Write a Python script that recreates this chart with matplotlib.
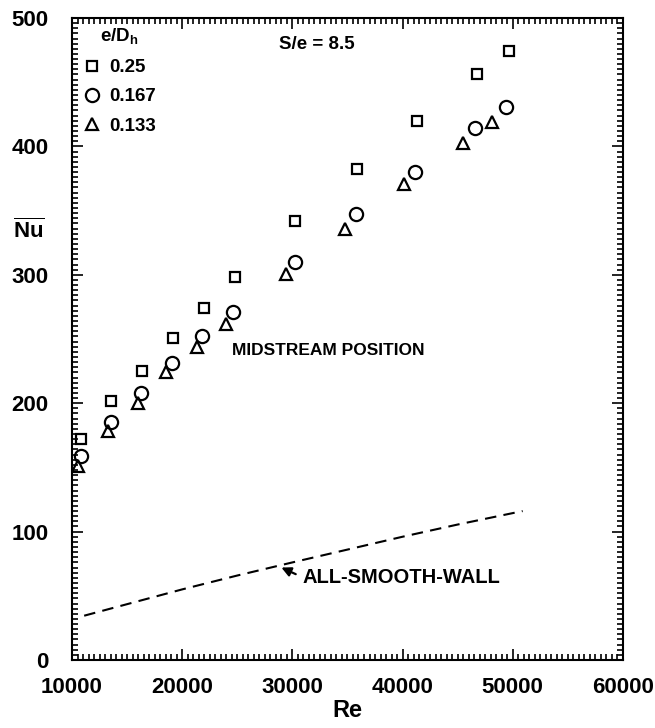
import matplotlib
matplotlib.use('Agg')
import matplotlib.pyplot as plt
from matplotlib.ticker import MultipleLocator

plt.rcParams['font.family'] = ['Liberation Sans', 'DejaVu Sans']
plt.rcParams['font.weight'] = 'bold'
plt.rcParams['mathtext.fontset'] = 'custom'
plt.rcParams['mathtext.rm'] = 'Liberation Sans:bold'
plt.rcParams['mathtext.bf'] = 'Liberation Sans:bold'

# e/Dh = 0.25
re_sq = [10800, 13550, 16350, 19200, 22000, 24800, 30250, 35900, 41350, 46800, 49650]
nu_sq = [172, 202, 225, 251, 274, 298, 342, 382, 420, 456, 474]
# e/Dh = 0.167
re_ci = [10800, 13550, 16250, 19100, 21800, 24650, 30200, 35750, 41100, 46550, 49350]
nu_ci = [159, 185, 208, 231, 252, 271, 310, 347, 380, 414, 431]
# e/Dh = 0.133
re_tr = [10550, 13250, 16000, 18550, 21350, 24000, 29450, 34750, 40100, 45450, 48100]
nu_tr = [151, 178, 200, 224, 244, 262, 301, 336, 371, 403, 419]
# smooth wall line
re_sm = [11100, 15000, 20000, 25000, 30000, 35000, 40000, 45000, 50900]
nu_sm = [34.5, 43.5, 55, 65.8, 76, 86, 96, 105.5, 116]

fig = plt.figure(figsize=(6.55, 7.28), dpi=100)
ax = fig.add_axes([0.1100, 0.0934, 0.8410, 0.8819])

ax.plot(re_sq, nu_sq, 's', ms=6.5, mfc='none', mec='black', mew=1.6, label='0.25')
ax.plot(re_ci, nu_ci, 'o', ms=9.5, mfc='none', mec='black', mew=1.6, label='0.167')
ax.plot(re_tr, nu_tr, '^', ms=8, mfc='none', mec='black', mew=1.6, label='0.133')
ax.plot(re_sm, nu_sm, color='black', lw=1.5, ls=(0, (5.5, 3.5)))

ax.set_xlim(10000, 60000)
ax.set_ylim(0, 500)
ax.xaxis.set_major_locator(MultipleLocator(10000))
ax.xaxis.set_minor_locator(MultipleLocator(500))
ax.yaxis.set_major_locator(MultipleLocator(100))
ax.yaxis.set_minor_locator(MultipleLocator(4))
ax.tick_params(which='both', direction='in', top=True, right=True, labelsize=16, width=1.2)
ax.tick_params(which='major', length=8)
ax.tick_params(which='minor', length=4)
ax.tick_params(axis='x', which='major', pad=12)
ax.tick_params(axis='y', which='major', pad=17)
for s in ax.spines.values():
    s.set_linewidth(1.5)

ax.set_xlabel('Re', fontsize=17, fontweight='bold', labelpad=1)
ax.set_ylabel(r'$\overline{\mathbf{Nu}}$', fontsize=16, rotation=0)
ax.yaxis.set_label_coords(-0.078, 0.65)

leg = ax.legend(loc='upper left', bbox_to_anchor=(-0.012, 1.013), frameon=False,
                title=r'e/D$_{\mathbf{h}}$', fontsize=13.5, title_fontsize=13.5,
                handlelength=1.0, handletextpad=0.45, labelspacing=0.65)
leg.get_title().set_fontweight('bold')

ax.text(0.375, 0.958, 'S/e = 8.5', transform=ax.transAxes, fontsize=13.5,
        fontweight='bold', ha='left', va='center')
ax.text(0.291, 0.482, 'MIDSTREAM POSITION', transform=ax.transAxes, fontsize=12.5,
        fontweight='bold', ha='left', va='center')
ax.annotate('ALL-SMOOTH-WALL', xy=(29000, 72), xytext=(30900, 64.5),
            fontsize=14.5, fontweight='bold', ha='left', va='center',
            arrowprops=dict(arrowstyle='-|>', color='black', lw=1.6,
                            relpos=(0, 0.5), shrinkA=3, shrinkB=0,
                            mutation_scale=14))

fig.savefig('out.png', dpi=100)
